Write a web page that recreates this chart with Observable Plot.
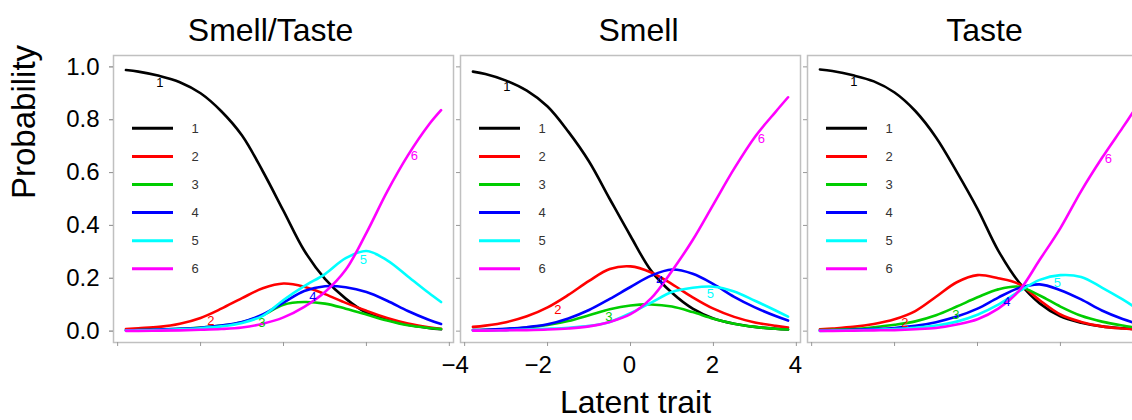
<!DOCTYPE html>
<html>
<head>
<meta charset="utf-8">
<script src="https://cdn.jsdelivr.net/npm/d3@7"></script>
<script src="https://cdn.jsdelivr.net/npm/@observablehq/plot@0.6"></script>
<style>
html, body { margin: 0; padding: 0; background: #fff; overflow: hidden; width: 1132px; height: 420px; }
#chart svg { max-width: none !important; display: block; }
</style>
</head>
<body>
<div id="chart"></div>
<script>
// ---------------- data ----------------
const panels = ["Smell/Taste", "Smell", "Taste"];
const categories = ["1", "2", "3", "4", "5", "6"];
const theta = [-3.8, -3.5, -3, -2.5, -2, -1.5, -1, -0.5, 0, 0.5, 1, 1.5, 2, 2.5, 3, 3.5, 3.8];

const smellTaste = [
  [0.988, 0.982, 0.966, 0.942, 0.9, 0.832, 0.74, 0.605, 0.455, 0.305, 0.198, 0.123, 0.07, 0.043, 0.024, 0.012, 0.007],
  [0.008, 0.011, 0.016, 0.028, 0.05, 0.085, 0.125, 0.162, 0.18, 0.168, 0.14, 0.107, 0.077, 0.05, 0.029, 0.015, 0.009],
  [0.003, 0.004, 0.006, 0.009, 0.014, 0.021, 0.034, 0.06, 0.1, 0.11, 0.104, 0.085, 0.063, 0.04, 0.022, 0.012, 0.008],
  [0.003, 0.004, 0.006, 0.009, 0.013, 0.021, 0.035, 0.063, 0.108, 0.152, 0.17, 0.166, 0.148, 0.115, 0.076, 0.043, 0.027],
  [0.002, 0.003, 0.004, 0.007, 0.011, 0.018, 0.031, 0.058, 0.118, 0.17, 0.216, 0.276, 0.303, 0.268, 0.207, 0.145, 0.11],
  [0.001, 0.001, 0.002, 0.003, 0.005, 0.008, 0.014, 0.028, 0.052, 0.092, 0.148, 0.232, 0.372, 0.528, 0.665, 0.78, 0.836]
];
const smell = [
  [0.982, 0.973, 0.948, 0.91, 0.85, 0.755, 0.642, 0.5, 0.36, 0.228, 0.145, 0.085, 0.048, 0.028, 0.016, 0.009, 0.006],
  [0.016, 0.021, 0.034, 0.056, 0.09, 0.137, 0.19, 0.235, 0.245, 0.222, 0.178, 0.128, 0.085, 0.054, 0.033, 0.02, 0.014],
  [0.004, 0.005, 0.008, 0.014, 0.023, 0.038, 0.06, 0.083, 0.097, 0.101, 0.093, 0.072, 0.047, 0.028, 0.016, 0.009, 0.006],
  [0.004, 0.005, 0.009, 0.015, 0.026, 0.048, 0.08, 0.122, 0.167, 0.21, 0.233, 0.217, 0.178, 0.13, 0.09, 0.057, 0.04],
  [0.002, 0.002, 0.004, 0.006, 0.009, 0.013, 0.02, 0.035, 0.068, 0.108, 0.148, 0.164, 0.168, 0.15, 0.115, 0.078, 0.055],
  [0.002, 0.002, 0.003, 0.004, 0.006, 0.01, 0.018, 0.035, 0.064, 0.125, 0.228, 0.345, 0.48, 0.615, 0.735, 0.83, 0.885]
];
const taste = [
  [0.99, 0.984, 0.968, 0.945, 0.903, 0.833, 0.733, 0.603, 0.463, 0.305, 0.185, 0.105, 0.056, 0.032, 0.018, 0.011, 0.008],
  [0.007, 0.01, 0.016, 0.027, 0.045, 0.076, 0.13, 0.185, 0.212, 0.2, 0.178, 0.117, 0.063, 0.035, 0.018, 0.01, 0.007],
  [0.004, 0.005, 0.008, 0.015, 0.024, 0.037, 0.06, 0.093, 0.128, 0.158, 0.168, 0.135, 0.093, 0.058, 0.036, 0.021, 0.014],
  [0.002, 0.003, 0.005, 0.008, 0.012, 0.02, 0.034, 0.055, 0.085, 0.127, 0.163, 0.177, 0.155, 0.12, 0.078, 0.046, 0.031],
  [0.001, 0.002, 0.003, 0.005, 0.008, 0.013, 0.021, 0.036, 0.062, 0.1, 0.15, 0.194, 0.212, 0.205, 0.165, 0.12, 0.09],
  [0.001, 0.001, 0.002, 0.003, 0.004, 0.007, 0.012, 0.025, 0.045, 0.085, 0.152, 0.27, 0.39, 0.53, 0.655, 0.77, 0.84]
];

const xTicks = [-4, -2, 0, 2, 4];
const xTickLabels = ["\u22124", "\u22122", "0", "2", "4"];
const yTicks = [0, 0.2, 0.4, 0.6, 0.8, 1.0];
const yTickLabels = ["0.0", "0.2", "0.4", "0.6", "0.8", "1.0"];
const labelTheta = [-3.03, -1.80, -0.57, 0.66, 1.88, 3.11];
const yTitle = "Probability";
const xTitle = "Latent trait";

// ---------------- styling / layout ----------------
const colors = ["#000000", "#FF0000", "#00CD00", "#0000FF", "#00FFFF", "#FF00FF"];
const FONT = "'Liberation Sans', Arial, Helvetica, sans-serif";
const titleShift = [-13, 8, 7];
const LEGEND = {x1: 19, x2: 60, tx: 82, top: 73.3, step: 28.1};

// ---------------- derived tables ----------------
const byPanel = {"Smell/Taste": smellTaste, "Smell": smell, "Taste": taste};
const rows = panels.flatMap(panel =>
  byPanel[panel].flatMap((vals, i) =>
    vals.map((p, j) => ({panel, cat: categories[i], theta: theta[j], p}))));

function interp(vals, t) {
  let j = d3.bisectRight(theta, t) - 1;
  j = Math.max(0, Math.min(j, theta.length - 2));
  const f = (t - theta[j]) / (theta[j + 1] - theta[j]);
  return vals[j] + f * (vals[j + 1] - vals[j]);
}
const curveLabels = panels.flatMap(panel =>
  categories.map((cat, i) => ({panel, cat, theta: labelTheta[i], p: interp(byPanel[panel][i], labelTheta[i])})));

function legendMark(index, scales, values, dimensions) {
  const L = dimensions && dimensions.marginLeft != null ? dimensions.marginLeft : 113;
  const T = dimensions && dimensions.marginTop != null ? dimensions.marginTop : 55;
  const g = d3.create("svg:g").attr("font-family", FONT);
  categories.forEach((c, i) => {
    const y = T + LEGEND.top + i * LEGEND.step;
    g.append("line")
      .attr("x1", L + LEGEND.x1).attr("x2", L + LEGEND.x2)
      .attr("y1", y).attr("y2", y)
      .attr("stroke", colors[i]).attr("stroke-width", 3);
    g.append("text")
      .attr("x", L + LEGEND.tx).attr("y", y).attr("dy", "0.35em")
      .attr("text-anchor", "middle").attr("font-size", 13).attr("fill", "#333")
      .text(c);
  });
  return g.node();
}

const chart = Plot.plot({
  width: 1150,
  height: 420,
  marginTop: 55,
  marginBottom: 78,
  marginLeft: 113,
  marginRight: 3,
  style: {fontFamily: FONT, background: "white", maxWidth: "none", color: "black"},
  fx: {domain: panels, paddingInner: 0.0202, paddingOuter: 0, axis: null, label: null},
  x: {domain: [-4.1, 4.1]},
  y: {domain: [-0.043, 1.043]},
  color: {domain: categories, range: colors},
  marks: [
    Plot.frame({stroke: "#c0c0c0", strokeWidth: 1.5}),
    Plot.axisY(yTicks, {facetAnchor: null, tickSize: 4, tickFormat: () => "", stroke: "#999", label: null}),
    Plot.axisY(yTicks, {tickSize: 4, tickPadding: 10, fontSize: 24, stroke: "#999",
      tickFormat: d => yTickLabels[yTicks.indexOf(d)], label: null}),
    Plot.axisX(xTicks, {facetAnchor: null, tickSize: 4, tickFormat: () => "", stroke: "#999", label: null}),
    Plot.text(xTicks.filter(d => d < 0), {x: d => d, fx: () => panels[1], text: d => xTickLabels[xTicks.indexOf(d)],
      frameAnchor: "bottom", lineAnchor: "middle", dy: 23.3, dx: -9.5, fontSize: 24, fill: "black"}),
    Plot.text(xTicks.filter(d => d >= 0), {x: d => d, fx: () => panels[1], text: d => xTickLabels[xTicks.indexOf(d)],
      frameAnchor: "bottom", lineAnchor: "middle", dy: 23.3, dx: -1, fontSize: 24, fill: "black"}),
    ...panels.map((name, i) => Plot.text([name], {fx: () => name, text: d => d, frameAnchor: "top",
      lineAnchor: "middle", dy: -25, dx: titleShift[i], fontSize: 32, fill: "black"})),
    Plot.text([yTitle], {fx: () => panels[0], text: d => d, frameAnchor: "left", lineAnchor: "middle", rotate: -90,
      dx: -89, fontSize: 33, fill: "black"}),
    Plot.text([xTitle], {fx: () => panels[1], text: d => d, frameAnchor: "bottom", lineAnchor: "middle",
      dy: 60, dx: 5, fontSize: 32, fill: "black"}),
    legendMark,
    Plot.line(rows, {x: "theta", y: "p", z: "cat", stroke: "cat", fx: "panel",
      curve: "catmull-rom", strokeWidth: 2.6}),
    Plot.text(curveLabels, {x: "theta", y: "p", fx: "panel", text: "cat", fill: "cat",
      dx: 2, dy: 7, fontSize: 13})
  ]
});
document.getElementById("chart").appendChild(chart);
</script>
</body>
</html>
